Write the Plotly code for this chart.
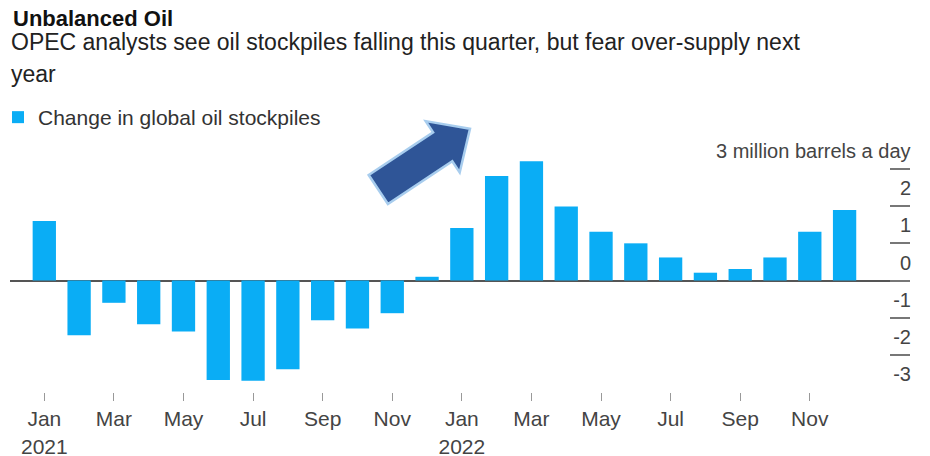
import plotly.graph_objects as go

# Monthly change in global oil stockpiles, million barrels a day
months = ["2021-01", "2021-02", "2021-03", "2021-04", "2021-05", "2021-06",
          "2021-07", "2021-08", "2021-09", "2021-10", "2021-11", "2021-12",
          "2022-01", "2022-02", "2022-03", "2022-04", "2022-05", "2022-06",
          "2022-07", "2022-08", "2022-09", "2022-10", "2022-11", "2022-12"]
stock_change = [1.60, -1.47, -0.60, -1.18, -1.37, -2.68, -2.70, -2.39, -1.07, -1.29, -0.88, 0.10,
                1.41, 2.81, 3.21, 1.99, 1.31, 1.00, 0.62, 0.21, 0.31, 0.62, 1.31, 1.90]

x_tick_vals = ["2021-01", "2021-03", "2021-05", "2021-07", "2021-09", "2021-11",
               "2022-01", "2022-03", "2022-05", "2022-07", "2022-09", "2022-11"]
x_tick_text = ["Jan<br>2021", "Mar", "May", "Jul", "Sep", "Nov",
               "Jan<br>2022", "Mar", "May", "Jul", "Sep", "Nov"]
y_tick_vals = [-3, -2, -1, 0, 1, 2, 3]
y_tick_text = ["-3", "-2", "-1", "0", "1", "2", ""]
y_top_label = "3 million barrels a day"

W, H = 930, 456
ML, MR, MT, MB = 10, 20, 134, 64
PW, PH = W - ML - MR, H - MT - MB
Y_TOP = 3 + (169 - MT) / (223 / 6)   # keeps the 3-line at y=169 px, -3 at the bottom
FONT = "Liberation Sans, Arial, Helvetica, sans-serif"
BAR_BLUE = "#0AADF5"
LABEL_SHIFT = 18


def px(x, y):
    """Pixel position on the page -> paper coordinates."""
    return (x - ML) / PW, (H - MB - y) / PH


fig = go.Figure()
fig.add_trace(go.Bar(
    x=months, y=stock_change, width=0.67,
    marker=dict(color=BAR_BLUE, line=dict(width=0)),
    name="Change in global oil stockpiles",
    cliponaxis=False,
))

# Block arrow drawn on top of the chart
arrow_px = [(368.7, 175.0), (433.1, 132.3), (425.7, 121.1), (470.0, 128.7),
            (459.7, 172.5), (452.3, 161.3), (387.9, 204.0)]
pts = [px(a, b) for a, b in arrow_px]
path = "M " + " L ".join(f"{a:.5f},{b:.5f}" for a, b in pts) + " Z"
fig.add_shape(type="path", path=path, xref="paper", yref="paper",
              fillcolor="#2F5597", line=dict(color="#A8CDEE", width=2.5), layer="above")

# Unit label sits above the top tick line, like the other tick labels
fig.add_annotation(text=y_top_label, x=1, y=y_tick_vals[-1], xref="paper", yref="y",
                   xanchor="right", yanchor="middle", xshift=2, yshift=LABEL_SHIFT,
                   showarrow=False, borderpad=0,
                   font=dict(family=FONT, size=20, color="#444444"))

# Headline and subtitle
tx, ty = px(11, 18)
fig.add_annotation(text="<b>Unbalanced Oil</b>", x=tx, y=ty, xref="paper", yref="paper",
                   xanchor="left", yanchor="middle", showarrow=False,
                   font=dict(family=FONT, size=22, color="#111111"))
sx, sy = px(9, 42)
fig.add_annotation(text="OPEC analysts see oil stockpiles falling this quarter, but fear over-supply next",
                   x=sx, y=sy, xref="paper", yref="paper", xanchor="left", yanchor="middle",
                   showarrow=False, font=dict(family=FONT, size=23, color="#222222"))
sx2, sy2 = px(9, 74)
fig.add_annotation(text="year", x=sx2, y=sy2, xref="paper", yref="paper",
                   xanchor="left", yanchor="middle", showarrow=False,
                   font=dict(family=FONT, size=23, color="#222222"))

lx, ly = px(-2, 117.5)
fig.update_layout(
    width=W, height=H,
    margin=dict(l=ML, r=MR, t=MT, b=MB, pad=0, autoexpand=False),
    paper_bgcolor="white", plot_bgcolor="white",
    font=dict(family=FONT, color="#444444"),
    showlegend=True,
    legend=dict(x=lx, y=ly, xanchor="left", yanchor="middle",
                font=dict(family=FONT, size=21, color="#333333"),
                bgcolor="rgba(0,0,0,0)", borderwidth=0),
    bargap=0.3,
    xaxis=dict(type="category", range=[-0.986, 24.88],
               tickmode="array", tickvals=x_tick_vals, ticktext=x_tick_text,
               ticks="outside", ticklen=8, tickwidth=1.2, tickcolor="#999999",
               showgrid=False, showline=False, zeroline=False,
               tickfont=dict(family=FONT, size=21, color="#444444")),
    yaxis=dict(side="right", range=[-3, Y_TOP],
               tickmode="array", tickvals=y_tick_vals, ticktext=y_tick_text,
               ticks="inside", ticklen=20, tickwidth=1.5, tickcolor="#777777",
               ticklabelposition="inside", ticklabelshift=-LABEL_SHIFT, ticklabelstandoff=-20,
               showgrid=False, showline=False,
               zeroline=True, zerolinecolor="#555555", zerolinewidth=1.5,
               tickfont=dict(family=FONT, size=20, color="#444444")),
)

fig.write_html("out.html")
